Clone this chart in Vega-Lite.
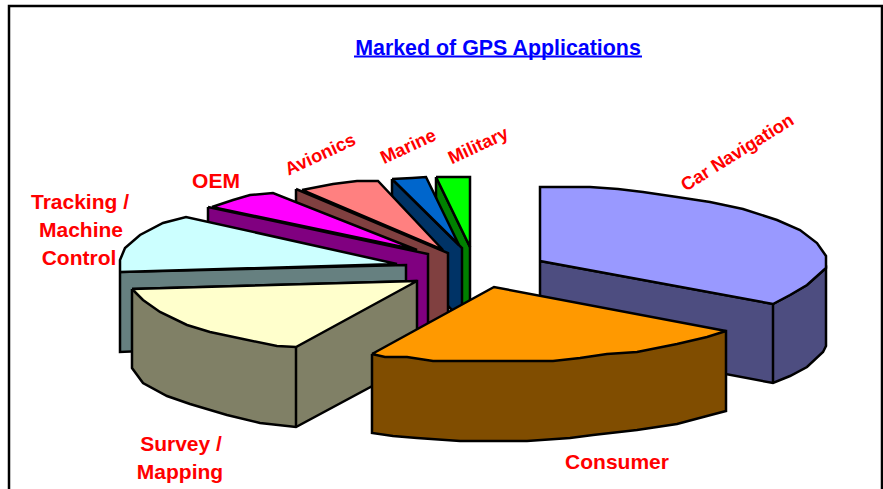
{
"$schema":"https://vega.github.io/schema/vega-lite/v6.json",
"width":883,"height":489,"autosize":{"type":"none"},"padding":0,"background":"white",
"config":{"view":{"stroke":null}},
"datasets":{
"parts":[
{"part":"Car Navigation side","i":1,"x":540,"y":261},{"part":"Car Navigation side","i":2,"x":773,"y":304},{"part":"Car Navigation side","i":3,"x":790,"y":295},{"part":"Car Navigation side","i":4,"x":807,"y":285},{"part":"Car Navigation side","i":5,"x":826,"y":268},{"part":"Car Navigation side","i":6,"x":826,"y":346},{"part":"Car Navigation side","i":7,"x":823,"y":352},{"part":"Car Navigation side","i":8,"x":807,"y":367},{"part":"Car Navigation side","i":9,"x":790,"y":376},{"part":"Car Navigation side","i":10,"x":773,"y":383},{"part":"Car Navigation side","i":11,"x":540,"y":339},{"part":"Car Navigation side","i":12,"x":540,"y":261},
{"part":"Car Navigation edge","i":1,"x":773,"y":304},{"part":"Car Navigation edge","i":2,"x":773,"y":383},
{"part":"Car Navigation top","i":1,"x":540,"y":261},{"part":"Car Navigation top","i":2,"x":540,"y":187},{"part":"Car Navigation top","i":3,"x":590,"y":187},{"part":"Car Navigation top","i":4,"x":618,"y":189},{"part":"Car Navigation top","i":5,"x":643,"y":192},{"part":"Car Navigation top","i":6,"x":677,"y":197},{"part":"Car Navigation top","i":7,"x":710,"y":202},{"part":"Car Navigation top","i":8,"x":743,"y":209},{"part":"Car Navigation top","i":9,"x":777,"y":220},{"part":"Car Navigation top","i":10,"x":800,"y":230},{"part":"Car Navigation top","i":11,"x":817,"y":243},{"part":"Car Navigation top","i":12,"x":826,"y":256},{"part":"Car Navigation top","i":13,"x":826,"y":268},{"part":"Car Navigation top","i":14,"x":807,"y":285},{"part":"Car Navigation top","i":15,"x":790,"y":295},{"part":"Car Navigation top","i":16,"x":773,"y":304},{"part":"Car Navigation top","i":17,"x":540,"y":261},
{"part":"Military side","i":1,"x":436,"y":177},{"part":"Military side","i":2,"x":470,"y":247},{"part":"Military side","i":3,"x":470,"y":320},{"part":"Military side","i":4,"x":436,"y":250},{"part":"Military side","i":5,"x":436,"y":177},
{"part":"Military top","i":1,"x":436,"y":177},{"part":"Military top","i":2,"x":470,"y":177},{"part":"Military top","i":3,"x":470,"y":247},{"part":"Military top","i":4,"x":436,"y":177},
{"part":"Marine side","i":1,"x":392,"y":179},{"part":"Marine side","i":2,"x":462,"y":248},{"part":"Marine side","i":3,"x":462,"y":320},{"part":"Marine side","i":4,"x":392,"y":250},{"part":"Marine side","i":5,"x":392,"y":179},
{"part":"Marine top","i":1,"x":392,"y":179},{"part":"Marine top","i":2,"x":412,"y":178},{"part":"Marine top","i":3,"x":426,"y":177},{"part":"Marine top","i":4,"x":459,"y":245},{"part":"Marine top","i":5,"x":392,"y":179},
{"part":"Avionics side","i":1,"x":296,"y":189},{"part":"Avionics side","i":2,"x":448,"y":253},{"part":"Avionics side","i":3,"x":448,"y":330},{"part":"Avionics side","i":4,"x":296,"y":269},{"part":"Avionics side","i":5,"x":296,"y":189},
{"part":"Avionics top","i":1,"x":302,"y":190},{"part":"Avionics top","i":2,"x":333,"y":184},{"part":"Avionics top","i":3,"x":357,"y":181},{"part":"Avionics top","i":4,"x":378,"y":181},{"part":"Avionics top","i":5,"x":443,"y":250},{"part":"Avionics top","i":6,"x":302,"y":190},
{"part":"OEM side","i":1,"x":208,"y":207},{"part":"OEM side","i":2,"x":428,"y":254},{"part":"OEM side","i":3,"x":428,"y":340},{"part":"OEM side","i":4,"x":208,"y":287},{"part":"OEM side","i":5,"x":208,"y":207},
{"part":"OEM top","i":1,"x":212,"y":207},{"part":"OEM top","i":2,"x":233,"y":200},{"part":"OEM top","i":3,"x":250,"y":195},{"part":"OEM top","i":4,"x":273,"y":193},{"part":"OEM top","i":5,"x":417,"y":250},{"part":"OEM top","i":6,"x":212,"y":207},
{"part":"Tracking / Machine Control side","i":1,"x":120,"y":272},{"part":"Tracking / Machine Control side","i":2,"x":406,"y":265},{"part":"Tracking / Machine Control side","i":3,"x":406,"y":340},{"part":"Tracking / Machine Control side","i":4,"x":120,"y":352},{"part":"Tracking / Machine Control side","i":5,"x":120,"y":272},
{"part":"Tracking / Machine Control top","i":1,"x":120,"y":272},{"part":"Tracking / Machine Control top","i":2,"x":120,"y":260},{"part":"Tracking / Machine Control top","i":3,"x":125,"y":248},{"part":"Tracking / Machine Control top","i":4,"x":140,"y":235},{"part":"Tracking / Machine Control top","i":5,"x":163,"y":223},{"part":"Tracking / Machine Control top","i":6,"x":186,"y":217},{"part":"Tracking / Machine Control top","i":7,"x":397,"y":264},{"part":"Tracking / Machine Control top","i":8,"x":120,"y":272},
{"part":"Survey / Mapping side","i":1,"x":132,"y":289},{"part":"Survey / Mapping side","i":2,"x":417,"y":281},{"part":"Survey / Mapping side","i":3,"x":417,"y":362},{"part":"Survey / Mapping side","i":4,"x":296,"y":427},{"part":"Survey / Mapping side","i":5,"x":260,"y":423},{"part":"Survey / Mapping side","i":6,"x":227,"y":415},{"part":"Survey / Mapping side","i":7,"x":190,"y":404},{"part":"Survey / Mapping side","i":8,"x":167,"y":396},{"part":"Survey / Mapping side","i":9,"x":143,"y":383},{"part":"Survey / Mapping side","i":10,"x":132,"y":368},{"part":"Survey / Mapping side","i":11,"x":132,"y":289},
{"part":"Survey / Mapping top","i":1,"x":132,"y":289},{"part":"Survey / Mapping top","i":2,"x":417,"y":281},{"part":"Survey / Mapping top","i":3,"x":296,"y":347},{"part":"Survey / Mapping top","i":4,"x":277,"y":346},{"part":"Survey / Mapping top","i":5,"x":243,"y":339},{"part":"Survey / Mapping top","i":6,"x":210,"y":332},{"part":"Survey / Mapping top","i":7,"x":187,"y":325},{"part":"Survey / Mapping top","i":8,"x":160,"y":312},{"part":"Survey / Mapping top","i":9,"x":143,"y":300},{"part":"Survey / Mapping top","i":10,"x":132,"y":289},
{"part":"Survey / Mapping edge","i":1,"x":296,"y":347},{"part":"Survey / Mapping edge","i":2,"x":296,"y":427},
{"part":"Consumer side","i":1,"x":372,"y":354},{"part":"Consumer side","i":2,"x":726,"y":331},{"part":"Consumer side","i":3,"x":726,"y":411},{"part":"Consumer side","i":4,"x":707,"y":416},{"part":"Consumer side","i":5,"x":677,"y":424},{"part":"Consumer side","i":6,"x":637,"y":430},{"part":"Consumer side","i":7,"x":593,"y":435},{"part":"Consumer side","i":8,"x":570,"y":438},{"part":"Consumer side","i":9,"x":527,"y":441},{"part":"Consumer side","i":10,"x":460,"y":441},{"part":"Consumer side","i":11,"x":417,"y":438},{"part":"Consumer side","i":12,"x":393,"y":436},{"part":"Consumer side","i":13,"x":372,"y":433},{"part":"Consumer side","i":14,"x":372,"y":354},
{"part":"Consumer top","i":1,"x":372,"y":354},{"part":"Consumer top","i":2,"x":494,"y":287},{"part":"Consumer top","i":3,"x":726,"y":331},{"part":"Consumer top","i":4,"x":707,"y":337},{"part":"Consumer top","i":5,"x":677,"y":344},{"part":"Consumer top","i":6,"x":637,"y":352},{"part":"Consumer top","i":7,"x":607,"y":354},{"part":"Consumer top","i":8,"x":580,"y":358},{"part":"Consumer top","i":9,"x":553,"y":361},{"part":"Consumer top","i":10,"x":433,"y":361},{"part":"Consumer top","i":11,"x":407,"y":357},{"part":"Consumer top","i":12,"x":385,"y":357},{"part":"Consumer top","i":13,"x":372,"y":354}
],
"frame":[{"i":1,"x":9,"y":489},{"i":2,"x":9,"y":6},{"i":3,"x":882,"y":6},{"i":4,"x":882,"y":489}],
"underline":[{"x":354,"y":56.5,"x2":642}],
"title":[{"t":"Marked of GPS Applications","x":498,"y":47}],
"flat":[{"t":"Tracking /","x":80,"y":202},{"t":"Machine","x":81,"y":230},{"t":"Control","x":79,"y":258},{"t":"OEM","x":216,"y":181},{"t":"Survey /","x":181,"y":444},{"t":"Mapping","x":180,"y":472},{"t":"Consumer","x":617,"y":462}],
"tilted":[{"t":"Avionics","x":320,"y":154},{"t":"Marine","x":408,"y":146},{"t":"Military","x":478,"y":145}],
"car":[{"t":"Car Navigation","x":737,"y":152}]
},
"encoding":{
"x":{"field":"x","type":"quantitative","scale":{"domain":[0,883],"nice":false,"zero":false},"axis":null},
"y":{"field":"y","type":"quantitative","scale":{"domain":[489,0],"nice":false,"zero":false},"axis":null}
},
"layer":[
{"data":{"name":"frame"},"mark":{"type":"line","stroke":"black","strokeWidth":2.5,"strokeJoin":"miter"},"encoding":{"order":{"field":"i","type":"quantitative"}}},
{"data":{"name":"parts"},"mark":{"type":"line","stroke":"black","strokeWidth":2.5,"strokeJoin":"miter","interpolate":"linear"},
"encoding":{"detail":{"field":"part","type":"nominal"},"order":{"field":"i","type":"quantitative"},
"fill":{"field":"part","type":"nominal","legend":null,"scale":{
"domain":["Car Navigation side","Car Navigation edge","Car Navigation top","Military side","Military top","Marine side","Marine top","Avionics side","Avionics top","OEM side","OEM top","Tracking / Machine Control side","Tracking / Machine Control top","Survey / Mapping side","Survey / Mapping top","Survey / Mapping edge","Consumer side","Consumer top"],
"range":["#4D4D80","#4D4D80","#9999FF","#008000","#00FF00","#003366","#0066CC","#804040","#FF8080","#800080","#FF00FF","#668080","#CCFFFF","#808066","#FFFFCC","#808066","#804D00","#FF9900"]}}}},
{"data":{"name":"underline"},"mark":{"type":"rule","stroke":"#0000FF","strokeWidth":2},"encoding":{"x2":{"field":"x2"}}},
{"data":{"name":"title"},"mark":{"type":"text","font":"Liberation Sans","fontWeight":"bold","fontSize":21.4,"dy":1.5,"fill":"#0000FF"},"encoding":{"text":{"field":"t"}}},
{"data":{"name":"flat"},"mark":{"type":"text","font":"Liberation Sans","fontWeight":"bold","fontSize":21,"dy":1,"fill":"#FF0000"},"encoding":{"text":{"field":"t"}}},
{"data":{"name":"tilted"},"mark":{"type":"text","font":"Liberation Sans","fontWeight":"bold","fontSize":18.3,"dy":1.5,"fill":"#FF0000","angle":335},"encoding":{"text":{"field":"t"}}},
{"data":{"name":"car"},"mark":{"type":"text","font":"Liberation Sans","fontWeight":"bold","fontSize":18.3,"dy":1.5,"fill":"#FF0000","angle":328},"encoding":{"text":{"field":"t"}}}
]
}
